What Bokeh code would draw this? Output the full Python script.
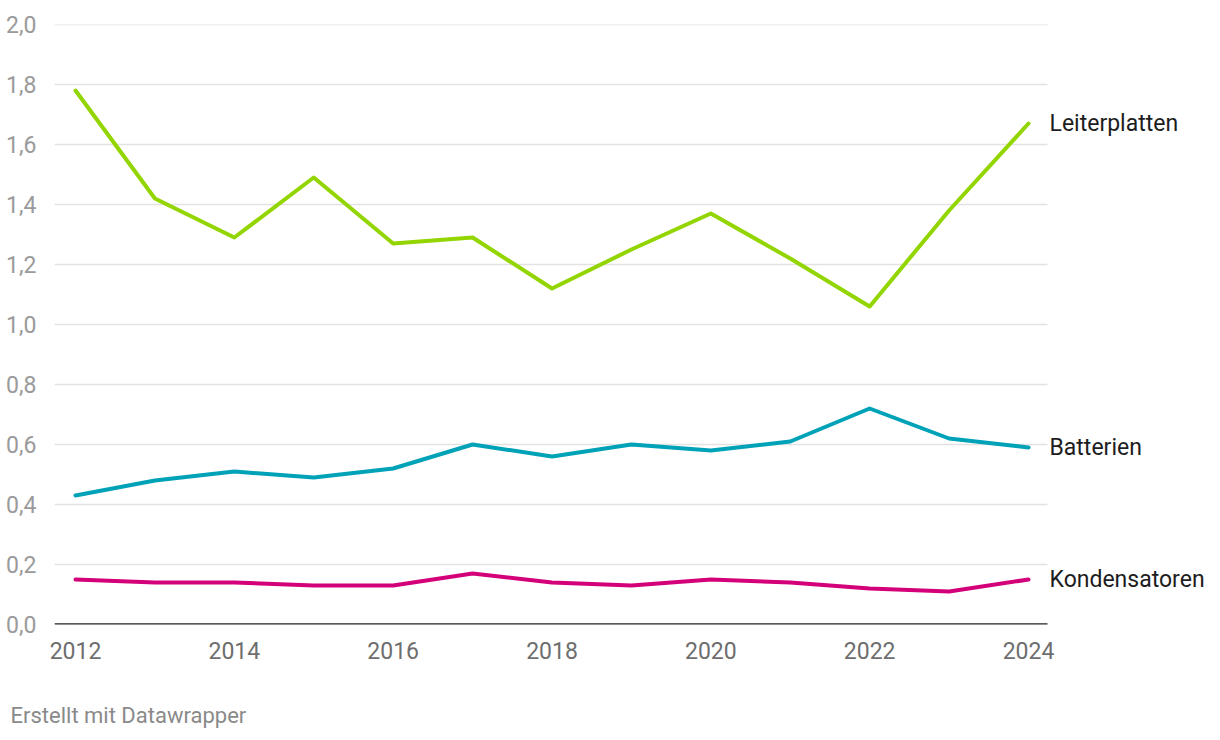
from bokeh.plotting import figure
from bokeh.models import Title, FixedTicker, CustomJSTickFormatter, Range1d
from bokeh.core.properties import value
from bokeh.embed import file_html
from bokeh.resources import INLINE

years = list(range(2012, 2025))
leiterplatten = [1.78, 1.42, 1.29, 1.49, 1.27, 1.29, 1.12, 1.25, 1.37, 1.22, 1.06, 1.38, 1.67]
batterien = [0.43, 0.48, 0.51, 0.49, 0.52, 0.60, 0.56, 0.60, 0.58, 0.61, 0.72, 0.62, 0.59]
kondensatoren = [0.15, 0.14, 0.14, 0.13, 0.13, 0.17, 0.14, 0.13, 0.15, 0.14, 0.12, 0.11, 0.15]
series_names = ["Leiterplatten", "Batterien", "Kondensatoren"]
series_values = [leiterplatten, batterien, kondensatoren]
series_colors = ["#93d500", "#00a2b8", "#d4007a"]
x_ticks = [2012, 2014, 2016, 2018, 2020, 2022, 2024]
y_ticks = [0.0, 0.2, 0.4, 0.6, 0.8, 1.0, 1.2, 1.4, 1.6, 1.8, 2.0]
footer = "Erstellt mit Datawrapper"

FONT = "Roboto"
W, H = 1216, 740
PX_PER_YEAR = 953 / 12.0
x_start = 2012 - 21 / PX_PER_YEAR
x_end = 2012 + (W - 75) / PX_PER_YEAR
grid_end = 2012 + 972 / PX_PER_YEAR

p = figure(width=W, height=H, output_backend="svg", toolbar_location=None,
           x_range=Range1d(x_start, x_end), y_range=Range1d(0, 2.0),
           min_border_left=54, min_border_right=0, min_border_top=24, min_border_bottom=0)
p.outline_line_color = None
p.background_fill_color = "white"
p.border_fill_color = "white"
p.xgrid.grid_line_color = None
p.ygrid.grid_line_color = None

p.yaxis.ticker = FixedTicker(ticks=y_ticks)
p.yaxis.formatter = CustomJSTickFormatter(code="return tick.toFixed(1).replace('.', ',');")
p.yaxis.axis_line_color = None
p.yaxis.major_tick_line_color = None
p.yaxis.minor_tick_line_color = None
p.yaxis.major_label_text_font = FONT
p.yaxis.major_label_text_font_size = "23px"
p.yaxis.major_label_text_color = "#9a9a9a"
p.yaxis.major_label_standoff = 12

p.xaxis.ticker = FixedTicker(ticks=x_ticks)
p.xaxis.axis_line_color = None
p.xaxis.major_tick_line_color = None
p.xaxis.minor_tick_line_color = None
p.xaxis.major_label_text_font = FONT
p.xaxis.major_label_text_font_size = "23px"
p.xaxis.major_label_text_color = "#6e6e6e"
p.xaxis.major_label_standoff = 11

grid_y = [t for t in y_ticks if t > 0]
p.segment(x0=[x_start] * len(grid_y), x1=[grid_end] * len(grid_y), y0=grid_y, y1=grid_y,
          line_color="#e2e2e2", line_width=1.5)
p.segment(x0=[x_start], x1=[grid_end], y0=[0.0], y1=[0.0], line_color="#222222", line_width=2.5)

for name, vals, col in zip(series_names, series_values, series_colors):
    p.line(years, vals, line_color=col, line_width=4, line_join="round", line_cap="round")

p.text(x=[years[-1]] * 3, y=[v[-1] for v in series_values], text=series_names,
       x_offset=21, text_baseline="middle", text_align="left",
       text_font=value(FONT), text_font_size="23px", text_color="#1d1d1d")

# invisible spacer between the x axis and the footer line
p.add_layout(Title(text=" ", standoff=13, text_font_size="10px", text_color="white"), "below")
p.add_layout(Title(text=footer, align="left", offset=-44, standoff=26,
                   text_font=FONT, text_font_size="22px", text_font_style="normal",
                   text_color="#8a8a8a"), "below")

open("out.html", "w").write(file_html(p, INLINE))
